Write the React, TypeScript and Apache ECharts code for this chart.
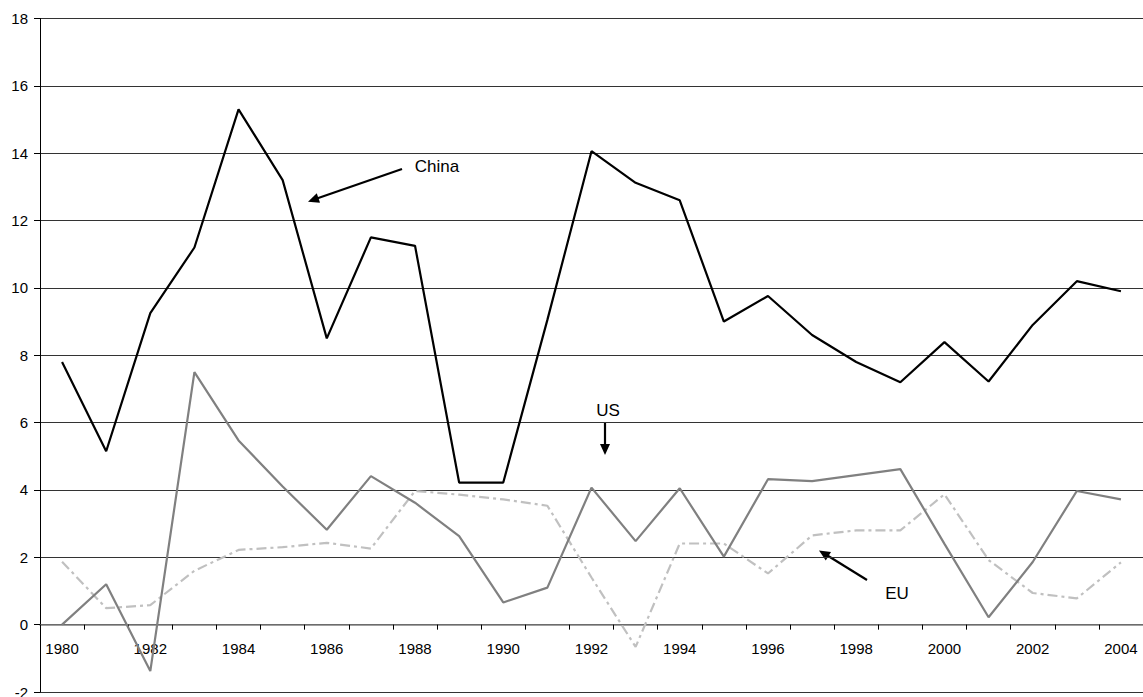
import React, { useEffect, useRef } from "react";
import * as echarts from "echarts";

const years: string[] = [
  "1980", "1981", "1982", "1983", "1984", "1985", "1986", "1987", "1988", "1989",
  "1990", "1991", "1992", "1993", "1994", "1995", "1996", "1997", "1998", "1999",
  "2000", "2001", "2002", "2003", "2004",
];

const china: number[] = [
  7.8, 5.15, 9.25, 11.2, 15.3, 13.2, 8.5, 11.5, 11.25, 4.22,
  4.22, 9.05, 14.06, 13.12, 12.6, 9.0, 9.76, 8.6, 7.8, 7.2,
  8.39, 7.22, 8.9, 10.2, 9.9,
];

const us: number[] = [
  0.0, 1.2, -1.38, 7.5, 5.47, 4.1, 2.82, 4.41, 3.62, 2.63,
  0.66, 1.1, 4.07, 2.48, 4.05, 2.02, 4.32, 4.26, 4.44, 4.62,
  2.4, 0.22, 1.86, 3.97, 3.72,
];

const eu: number[] = [
  1.87, 0.49, 0.58, 1.6, 2.22, 2.3, 2.43, 2.26, 3.97, 3.86,
  3.72, 3.53, 1.4, -0.66, 2.41, 2.41, 1.52, 2.65, 2.8, 2.8,
  3.87, 1.92, 0.94, 0.78, 1.85,
];

const yTicks = { min: -2, max: 18, interval: 2 };

const FONT = "'Liberation Sans', Arial, sans-serif";

export default function App() {
  const ref = useRef<HTMLDivElement>(null);

  useEffect(() => {
    document.body.style.margin = "0";
    if (!ref.current) return;
    const chart = echarts.init(ref.current, null, { renderer: "svg" });

    const arrowHead = (tipX: number, tipY: number, fromX: number, fromY: number) => {
      const dx = tipX - fromX;
      const dy = tipY - fromY;
      const len = Math.sqrt(dx * dx + dy * dy);
      const ux = dx / len;
      const uy = dy / len;
      const L = 11;
      const W = 5;
      const bx = tipX - ux * L;
      const by = tipY - uy * L;
      return {
        type: "polygon",
        shape: {
          points: [
            [tipX, tipY],
            [bx - uy * W, by + ux * W],
            [bx + uy * W, by - ux * W],
          ],
        },
        style: { fill: "#000" },
        silent: true,
      };
    };

    const arrowLine = (x1: number, y1: number, x2: number, y2: number) => ({
      type: "line",
      shape: { x1, y1, x2, y2 },
      style: { stroke: "#000", lineWidth: 2.2 },
      silent: true,
    });

    const label = (text: string, x: number, y: number) => ({
      type: "text",
      x,
      y,
      style: {
        text,
        font: `17px ${FONT}`,
        fill: "#000",
        align: "center",
        verticalAlign: "middle",
      },
      silent: true,
    });

    chart.setOption({
      animation: false,
      backgroundColor: "#fff",
      textStyle: { fontFamily: FONT },
      grid: {
        left: 40,
        right: 0,
        top: 18.5,
        bottom: 5,
        containLabel: false,
        outerBoundsMode: "none",
      },
      xAxis: {
        type: "category",
        data: years,
        boundaryGap: true,
        axisLine: { onZero: true, lineStyle: { color: "#808080", width: 1.5 } },
        axisTick: {
          show: true,
          interval: 0,
          alignWithLabel: false,
          length: 5,
          lineStyle: { color: "#000" },
        },
        axisLabel: {
          interval: 1,
          margin: -51,
          fontSize: 15,
          color: "#000",
          fontFamily: FONT,
        },
        splitLine: { show: false },
      },
      yAxis: {
        type: "value",
        min: yTicks.min,
        max: yTicks.max,
        interval: yTicks.interval,
        axisLine: { show: true, lineStyle: { color: "#000", width: 1 } },
        axisTick: { show: true, length: 6, lineStyle: { color: "#000" } },
        axisLabel: {
          margin: 12,
          fontSize: 15,
          color: "#000",
          fontFamily: FONT,
        },
        splitLine: { show: true, lineStyle: { color: "#333", width: 1 } },
      },
      series: [
        {
          name: "EU",
          type: "line",
          data: eu,
          symbol: "none",
          lineStyle: { color: "#c0c0c0", width: 2.2, type: [10, 4, 3, 4] },
          z: 2,
        },
        {
          name: "US",
          type: "line",
          data: us,
          symbol: "none",
          lineStyle: { color: "#808080", width: 2.2 },
          z: 3,
        },
        {
          name: "China",
          type: "line",
          data: china,
          symbol: "none",
          lineStyle: { color: "#000", width: 2.2 },
          z: 4,
        },
      ],
      graphic: [
        arrowLine(402, 169, 314, 199.5),
        arrowHead(308, 201.7, 402, 169),
        label("China", 437, 166),
        arrowLine(605, 423, 605, 446),
        arrowHead(605, 455, 605, 423),
        label("US", 608, 410),
        arrowLine(867, 580, 825, 554),
        arrowHead(819, 550.5, 867, 580),
        label("EU", 897, 593),
      ],
    });

    return () => {
      chart.dispose();
    };
  }, []);

  return <div ref={ref} style={{ width: 1143, height: 697 }} />;
}
